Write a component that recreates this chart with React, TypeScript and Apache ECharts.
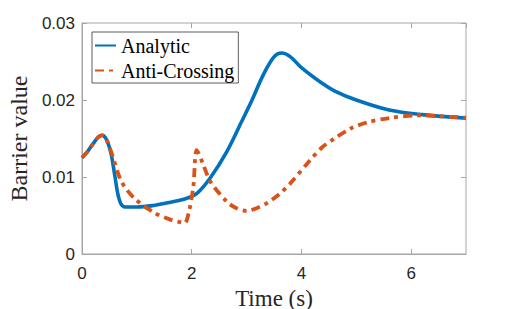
import React, { useEffect, useRef } from "react";
import * as echarts from "echarts";

const analyticData: [number, number][] = [
  [0, 0.0125], [0.1, 0.0133], [0.2, 0.0143], [0.3, 0.0152], [0.37, 0.0154],
  [0.45, 0.0148], [0.53, 0.013], [0.6, 0.0101], [0.66, 0.0076], [0.72, 0.0064],
  [0.8, 0.0061], [1.0, 0.0061], [1.3, 0.0063], [1.6, 0.0067], [1.9, 0.0072],
  [2.1, 0.0079], [2.34, 0.0099], [2.64, 0.0133], [2.91, 0.0172], [3.1, 0.02],
  [3.3, 0.0232], [3.5, 0.0256], [3.64, 0.0261], [3.8, 0.0256], [4.0, 0.0242],
  [4.37, 0.0222], [4.6, 0.0212], [5.0, 0.02], [5.6, 0.0187], [6.2, 0.0181],
  [7, 0.01765],
];

const antiCrossingData: [number, number][] = [
  [0, 0.0125], [0.1, 0.0133], [0.2, 0.0143], [0.3, 0.0152], [0.37, 0.0154],
  [0.45, 0.0148], [0.54, 0.0131], [0.72, 0.0094], [0.96, 0.0072], [1.33, 0.0053],
  [1.6, 0.0045], [1.75, 0.0042], [1.87, 0.004], [1.95, 0.0055], [2.03, 0.0088],
  [2.09, 0.0135], [2.2, 0.0118], [2.34, 0.0094], [2.64, 0.0068], [2.8, 0.006],
  [3.0, 0.0056], [3.2, 0.006], [3.37, 0.0066], [3.6, 0.0078], [3.8, 0.0092],
  [4.16, 0.0122], [4.37, 0.0138], [4.6, 0.015], [4.9, 0.0163], [5.2, 0.0171],
  [5.6, 0.01765], [6.1, 0.018], [6.5, 0.0179], [7, 0.0177],
];

const seriesNames = ["Analytic", "Anti-Crossing"];
const xTicks = [0, 2, 4, 6];
const yTicks = [0, 0.01, 0.02, 0.03];

const BOX = "#a6a6a6";
const TXT = "#262626";
const SANS = "'Liberation Sans', Arial, Helvetica, sans-serif";
const SERIF = "'Liberation Serif', 'Times New Roman', serif";

export default function App() {
  const ref = useRef<HTMLDivElement>(null);
  useEffect(() => {
    if (!ref.current) return;
    const chart = echarts.init(ref.current, undefined, { renderer: "svg" });
    const mkTick = () => ({
      show: true,
      inside: true,
      length: 5,
      lineStyle: { color: BOX, width: 1 },
    });
    chart.setOption({
      animation: false,
      backgroundColor: "#ffffff",
      grid: {
        left: 82,
        right: 49,
        top: 23,
        bottom: 55,
        show: true,
        outerBoundsMode: "none",
        containLabel: false,
        borderColor: BOX,
        borderWidth: 1,
        backgroundColor: "transparent",
      },
      legend: {
        left: 92,
        top: 32,
        orient: "vertical",
        data: seriesNames,
        backgroundColor: "#ffffff",
        borderColor: "#333333",
        borderWidth: 0.8,
        padding: [2, 4, 1, 2],
        itemWidth: 21,
        itemHeight: 10,
        itemGap: 2,
        itemStyle: { opacity: 0 },
        textStyle: { fontFamily: SERIF, fontSize: 20, color: "#000", lineHeight: 23 },
      },
      xAxis: [
        {
          type: "value",
          min: 0,
          max: 7,
          interval: 2,
          name: "Time (s)",
          nameLocation: "middle",
          nameGap: 21,
          nameTextStyle: { fontFamily: SERIF, fontSize: 23, lineHeight: 23, color: TXT },
          axisLine: { show: true, onZero: false, lineStyle: { color: BOX } },
          axisTick: mkTick(),
          splitLine: { show: false },
          axisLabel: {
            fontFamily: SANS,
            fontSize: 17,
            color: TXT,
            margin: 11,
            showMaxLabel: false,
            formatter: (v: number) => (xTicks.includes(v) ? String(v) : ""),
          },
        },
        {
          type: "value",
          position: "top",
          min: 0,
          max: 7,
          interval: 2,
          axisLine: { show: false, onZero: false },
          axisTick: mkTick(),
          splitLine: { show: false },
          axisLabel: { show: false },
        },
      ],
      yAxis: [
        {
          type: "value",
          min: 0,
          max: 0.03,
          interval: 0.01,
          name: "Barrier value",
          nameLocation: "middle",
          nameGap: 49,
          nameTextStyle: { fontFamily: SERIF, fontSize: 24, lineHeight: 24, color: TXT },
          axisLine: { show: true, onZero: false, lineStyle: { color: BOX } },
          axisTick: mkTick(),
          splitLine: { show: false },
          axisLabel: {
            fontFamily: SANS,
            fontSize: 17,
            color: TXT,
            margin: 7,
            formatter: (v: number) => {
              const t = yTicks.find((y) => Math.abs(y - v) < 1e-9);
              if (t === undefined) return "";
              return t === 0 ? "0" : t.toFixed(2);
            },
          },
        },
        {
          type: "value",
          position: "right",
          min: 0,
          max: 0.03,
          interval: 0.01,
          axisLine: { show: false, onZero: false },
          axisTick: mkTick(),
          splitLine: { show: false },
          axisLabel: { show: false },
        },
      ],
      series: [
        {
          name: seriesNames[0],
          type: "line",
          data: analyticData,
          smooth: 0.35,
          showSymbol: false,
          symbol: "none",
          lineStyle: { color: "#0072BD", width: 3.6 },
          itemStyle: { color: "#0072BD" },
          z: 2,
        },
        {
          name: seriesNames[1],
          type: "line",
          data: antiCrossingData,
          smooth: 0.3,
          showSymbol: false,
          symbol: "none",
          lineStyle: { color: "#D95319", width: 3.8, type: [9, 5, 4, 5] },
          itemStyle: { color: "#D95319" },
          z: 3,
        },
      ],
    });
    return () => chart.dispose();
  }, []);
  return (
    <div
      ref={ref}
      style={{ position: "fixed", left: 0, top: 0, width: 515, height: 309 }}
    />
  );
}
